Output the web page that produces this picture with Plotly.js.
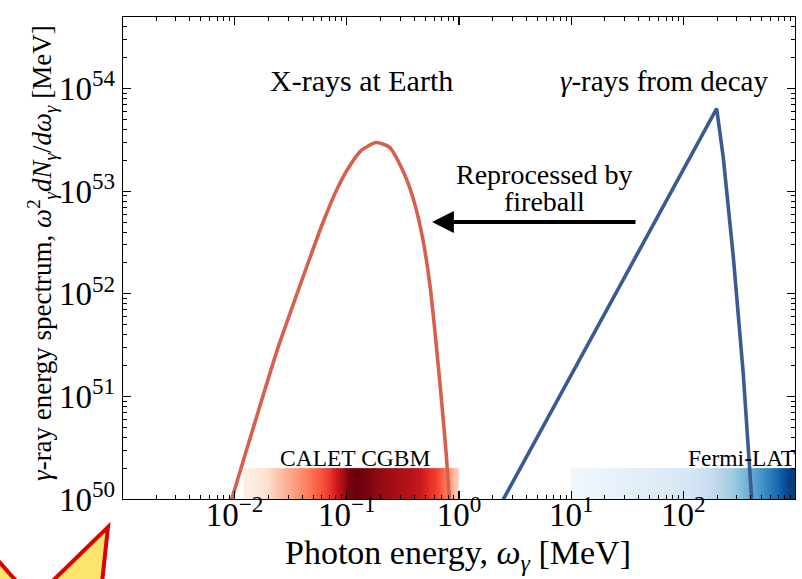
<!DOCTYPE html>
<html>
<head>
<meta charset="utf-8">
<script src="https://cdn.plot.ly/plotly-3.0.1.min.js"></script>
<style>html,body{margin:0;padding:0;background:#fff;}#chart{width:802px;height:579px;}</style>
</head>
<body>
<div id="chart"></div>
<script>
// ---- data ----
// X-rays at Earth (reprocessed spectrum)
const xrayE = [0.0093, 0.01293, 0.01760, 0.02395, 0.03262, 0.04439, 0.06041, 0.08228, 0.1053, 0.1347, 0.1823, 0.2395, 0.3149, 0.3869, 0.4721, 0.5531, 0.6296, 0.7023, 0.7686, 0.8226];
const xrayS = [0.95e50, 3.14e50, 9.53e50, 2.83e51, 7.41e51, 1.90e52, 4.77e52, 1.066e53, 1.745e53, 2.498e53, 2.984e53, 2.70e53, 1.603e53, 8.81e52, 3.59e52, 1.17e52, 3.045e51, 8.55e50, 2.79e50, 0.95e50];
// gamma-rays from decay
const gammaE = [2.43, 197.9, 226.6, 278.6, 342.0, 407.7];
const gammaS = [0.95e50, 6.4e53, 2.16e53, 2.30e52, 1.66e51, 0.95e50];
// detector bands [MeV] and relative sensitivity shading
const caletRange = [0.012, 1.0];
const caletShade = [0.05, 0.08, 0.12, 0.2, 0.27, 0.33, 0.4, 0.47, 0.55, 0.63, 0.78, 0.95, 1.0, 0.97, 0.93, 0.9, 0.88, 0.85, 0.82, 0.76, 0.68, 0.6, 0.45, 0.22];
const fermiRange = [10, 1000];
const fermiShade = [0.04, 0.05, 0.06, 0.07, 0.08, 0.1, 0.11, 0.12, 0.13, 0.15, 0.17, 0.2, 0.25, 0.31, 0.38, 0.47, 0.57, 0.68, 0.8, 0.95];
const bandY = [1e50, 2e50];
const caletLabel = 'CALET CGBM';
const fermiLabel = 'Fermi-LAT';
// tick labels
const xTickVals = [1e-2, 1e-1, 1e0, 1e1, 1e2];
const xTickText = ['10<sup>−2</sup>', '10<sup>−1</sup>', '10<sup>0</sup>', '10<sup>1</sup>', '10<sup>2</sup>'];
const yTickVals = [1e50, 1e51, 1e52, 1e53, 1e54];
const yTickText = ['10<sup>50</sup>', '10<sup>51</sup>', '10<sup>52</sup>', '10<sup>53</sup>', '10<sup>54</sup>'];

// ---- helpers ----
function logEdges(range, n) {
  const a = Math.log10(range[0]), b = Math.log10(range[1]);
  const out = [];
  for (let i = 0; i <= n; i++) out.push(Math.pow(10, a + (b - a) * i / n));
  return out;
}
function minorLog(p0, p1) {
  const out = [];
  for (let p = p0; p <= p1; p++) for (let m = 2; m <= 9; m++) out.push(m * Math.pow(10, p));
  return out;
}
const W = 802, H = 579;
const M = {l: 123, r: 7, t: 17, b: 80};
const PW = W - M.l - M.r, PH = H - M.t - M.b;
const px = x => (x - M.l) / PW;
const py = y => (H - M.b - y) / PH;

const reds = [[0,'#fff5f0'],[0.125,'#fee0d2'],[0.25,'#fcbba1'],[0.375,'#fc9272'],[0.5,'#fb6a4a'],[0.625,'#ef3b2c'],[0.75,'#cb181d'],[0.875,'#a50f15'],[1,'#67000d']];
const blues = [[0,'#f7fbff'],[0.125,'#deebf7'],[0.25,'#c6dbef'],[0.375,'#9ecae1'],[0.5,'#6baed6'],[0.625,'#4292c6'],[0.75,'#2171b5'],[0.875,'#08519c'],[1,'#08306b']];

const FONT = 'Liberation Serif, Times New Roman, serif';
const bandEdgesY = logEdges(bandY, 2);

const traces = [
  {type: 'heatmap', x: logEdges(caletRange, caletShade.length), y: bandEdgesY, z: [caletShade, caletShade], zsmooth: 'best',
   colorscale: reds, zmin: 0, zmax: 1, showscale: false, hoverinfo: 'skip'},
  {type: 'heatmap', x: logEdges(fermiRange, fermiShade.length), y: bandEdgesY, z: [fermiShade, fermiShade], zsmooth: 'best',
   colorscale: blues, zmin: 0, zmax: 1, showscale: false, hoverinfo: 'skip'},
  {type: 'scatter', mode: 'lines', x: xrayE, y: xrayS, line: {color: '#d6604d', width: 3.6, shape: 'spline', smoothing: 0.6}, hoverinfo: 'skip'},
  {type: 'scatter', mode: 'lines', x: gammaE, y: gammaS, line: {color: '#3a5a92', width: 3.6}, hoverinfo: 'skip'}
];

const axisCommon = {
  type: 'log', showgrid: false, zeroline: false,
  showline: true, linecolor: '#000', linewidth: 1.3, mirror: 'allticks',
  ticks: 'inside', ticklen: 8, tickwidth: 1.1, tickcolor: '#000',
  tickmode: 'array',
  tickfont: {family: FONT, size: 33, color: '#000'}
};

const layout = {
  width: W, height: H, margin: M,
  paper_bgcolor: '#fff', plot_bgcolor: '#fff',
  showlegend: false,
  font: {family: FONT, color: '#000'},
  xaxis: Object.assign({}, axisCommon, {
    range: [-2.995, 2.995],
    tickvals: xTickVals, ticktext: xTickText,
    ticklabelstandoff: -14,
    minor: {tickmode: 'array', tickvals: minorLog(-3, 2), ticks: 'inside', ticklen: 4, tickwidth: 1, tickcolor: '#000', showgrid: false}
  }),
  yaxis: Object.assign({}, axisCommon, {
    range: [50, Math.log10(5e54)],
    tickvals: yTickVals, ticktext: yTickText,
    ticklabelstandoff: 0,
    minor: {tickmode: 'array', tickvals: minorLog(50, 54), ticks: 'inside', ticklen: 4, tickwidth: 1, tickcolor: '#000', showgrid: false}
  }),
  annotations: [
    {xref: 'paper', yref: 'paper', x: px(458), y: py(555), text: 'Photon energy, <i>ω</i><sub><i>γ</i></sub> [MeV]', showarrow: false, borderpad: 0, font: {size: 34, family: FONT}, xanchor: 'center', yanchor: 'middle'},
    {xref: 'paper', yref: 'paper', x: px(42), y: py(253), textangle: -90, text: '<i>γ</i>-ray energy spectrum, <i>ω</i><sup>2</sup><sub><i>γ</i></sub><i>dN</i><sub><i>γ</i></sub>/<i>dω</i><sub><i>γ</i></sub> [MeV]', showarrow: false, borderpad: 0, font: {size: 27, family: FONT}, xanchor: 'center', yanchor: 'middle'},
    {xref: 'paper', yref: 'paper', x: px(361), y: py(81), text: 'X-rays at Earth', showarrow: false, borderpad: 0, font: {size: 30, family: FONT}, xanchor: 'center', yanchor: 'middle'},
    {xref: 'paper', yref: 'paper', x: px(664), y: py(81), text: '<i>γ</i>-rays from decay', showarrow: false, borderpad: 0, font: {size: 29, family: FONT}, xanchor: 'center', yanchor: 'middle'},
    {xref: 'paper', yref: 'paper', x: px(544), y: py(175), text: 'Reprocessed by', showarrow: false, borderpad: 0, font: {size: 28, family: FONT}, xanchor: 'center', yanchor: 'middle'},
    {xref: 'paper', yref: 'paper', x: px(544), y: py(202), text: 'fireball', showarrow: false, borderpad: 0, font: {size: 28, family: FONT}, xanchor: 'center', yanchor: 'middle'},
    {xref: 'paper', yref: 'paper', x: px(355), y: py(458), text: caletLabel, showarrow: false, borderpad: 0, font: {size: 23.5, family: FONT}, xanchor: 'center', yanchor: 'middle'},
    {xref: 'paper', yref: 'paper', x: px(796), y: py(458), text: fermiLabel, showarrow: false, borderpad: 0, font: {size: 23.5, family: FONT}, xanchor: 'right', yanchor: 'middle'},
    {xref: 'paper', yref: 'paper', axref: 'pixel', ayref: 'pixel', x: px(432), y: py(222), ax: 205, ay: 0,
     text: '', showarrow: true, arrowhead: 2, arrowsize: 1.15, arrowwidth: 3.8, arrowcolor: '#000', standoff: 0, startstandoff: 0}
  ],
  shapes: [
    {type: 'path', xref: 'paper', yref: 'paper', layer: 'above',
     path: 'M' + px(-45) + ',' + py(512) + ' L' + px(33) + ',' + py(600) + ' L' + px(108) + ',' + py(527) +
           ' L' + px(98) + ',' + py(620) + ' L' + px(-45) + ',' + py(620) + ' Z',
     fillcolor: '#fde46a', line: {color: '#dd0000', width: 4}}
  ]
};

Plotly.newPlot('chart', traces, layout, {staticPlot: true, displayModeBar: false});
</script>
</body>
</html>
